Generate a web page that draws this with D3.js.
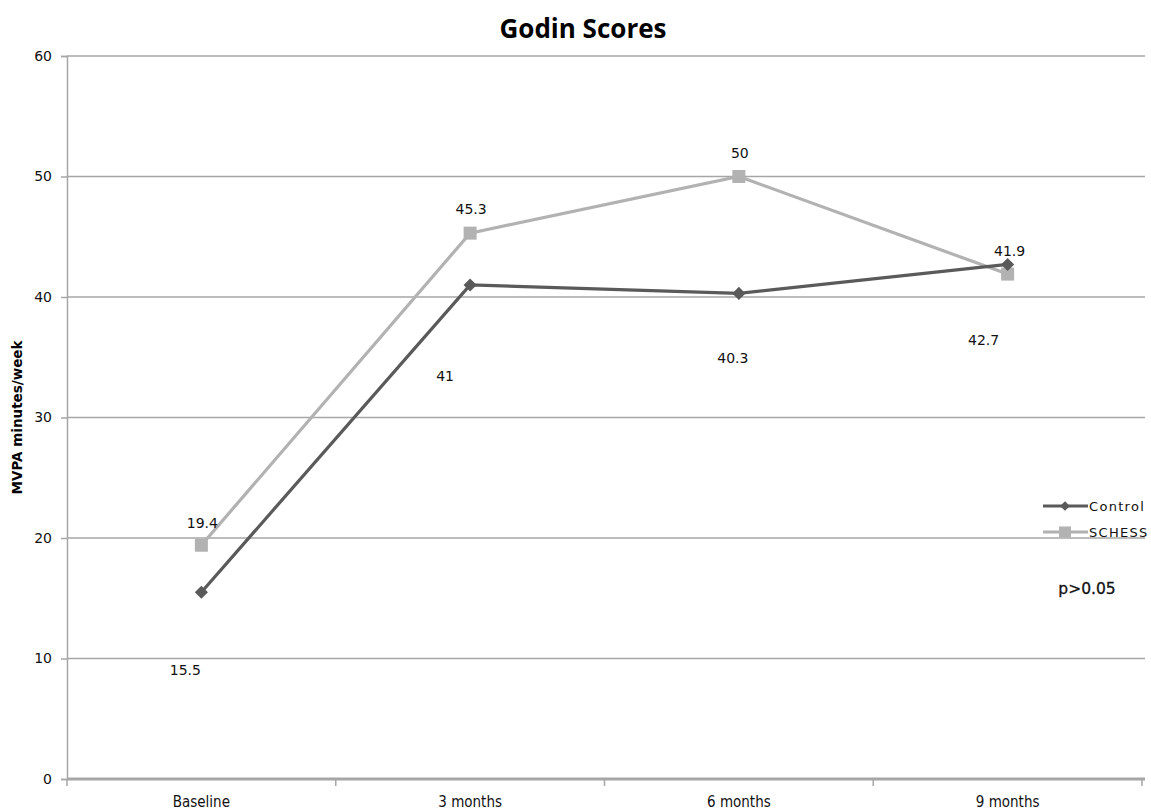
<!DOCTYPE html>
<html>
<head>
<meta charset="utf-8">
<script src="https://cdn.jsdelivr.net/npm/d3@7/dist/d3.min.js"></script>
<style>
  html, body { margin: 0; padding: 0; background: #fff; }
  svg { display: block; }
</style>
</head>
<body>
<svg id="chart" width="1151" height="810"></svg>
<script>
// Godin scores: MVPA minutes/week over time
const timepoints = ["Baseline", "3 months", "6 months", "9 months"];
const controlValues = [15.5, 41, 40.3, 42.7];
const schessValues = [19.4, 45.3, 50, 41.9];
const seriesNames = ["Control", "SCHESS"];
const yTicks = [0, 10, 20, 30, 40, 50, 60];

// hand-placed offsets for the value labels (px, relative to marker)
const controlLabelOffsets = [[-16, 78], [-25, 91], [-6, 65], [-24, 76]];
const schessLabelOffsets = [[1, -22], [1, -24], [1, -23], [2, -23]];

const svg = d3.select("#chart");
const margin = { left: 67, right: 1145, top: 56, bottom: 779 };

const x = d3.scaleBand().domain(timepoints).range([margin.left, 1142]).paddingInner(0).paddingOuter(0);
const y = d3.scaleLinear().domain([0, 60]).range([margin.bottom, margin.top]);
const cx = d => x(d) + x.bandwidth() / 2;

const gridColor = "#a6a6a6";
const controlColor = "#5a5a5a";
const schessColor = "#b2b2b2";
const labelFont = "DejaVu Sans, Verdana, sans-serif";

// horizontal gridlines
svg.append("g").selectAll("line").data(yTicks.filter(t => t > 0)).join("line")
  .attr("x1", margin.left).attr("x2", margin.right)
  .attr("y1", d => y(d)).attr("y2", d => y(d))
  .attr("stroke", gridColor).attr("stroke-width", 1.5);

// y axis
const yAxis = d3.axisLeft(y).tickValues(yTicks).tickSize(6).tickPadding(9);
const gy = svg.append("g").attr("transform", `translate(${margin.left},0)`).call(yAxis);
gy.select(".domain").attr("stroke", gridColor).attr("stroke-width", 1.5);
gy.selectAll(".tick line").attr("stroke", gridColor).attr("stroke-width", 1.5);
gy.selectAll(".tick text").attr("fill", "#111").attr("font-family", labelFont).attr("font-size", 14);

// x axis
const xEdges = timepoints.map(d => x(d)).concat([x(timepoints[timepoints.length - 1]) + x.bandwidth()]);
const gx = svg.append("g");
gx.append("line").attr("x1", margin.left).attr("x2", margin.right)
  .attr("y1", y(0)).attr("y2", y(0)).attr("stroke", gridColor).attr("stroke-width", 3);
gx.selectAll("line.tk").data(xEdges).join("line").attr("class", "tk")
  .attr("x1", d => d).attr("x2", d => d).attr("y1", y(0)).attr("y2", y(0) + 7)
  .attr("stroke", gridColor).attr("stroke-width", 1.5);
gx.selectAll("text").data(timepoints).join("text")
  .attr("x", d => cx(d)).attr("y", 807)
  .attr("text-anchor", "middle")
  .attr("font-family", "DejaVu Sans Condensed, DejaVu Sans, sans-serif")
  .attr("font-stretch", "condensed")
  .attr("font-size", 15).attr("fill", "#111")
  .text(d => d);

// title
svg.append("text").attr("x", 583).attr("y", 38).attr("text-anchor", "middle")
  .attr("font-family", "Open Sans, sans-serif").attr("font-weight", 700)
  .attr("font-size", 26).attr("fill", "#000").text("Godin Scores");

// y axis title
svg.append("text").attr("transform", `translate(22,${(margin.top + margin.bottom) / 2}) rotate(-90)`)
  .attr("text-anchor", "middle")
  .attr("font-family", labelFont).attr("font-weight", 700)
  .attr("font-size", 13.5).attr("fill", "#000").text("MVPA minutes/week");

const line = d3.line().x((d, i) => cx(timepoints[i])).y(d => y(d));

// SCHESS series (squares)
svg.append("path").datum(schessValues).attr("d", line)
  .attr("fill", "none").attr("stroke", schessColor).attr("stroke-width", 3.2);
svg.append("g").selectAll("rect").data(schessValues).join("rect")
  .attr("x", (d, i) => cx(timepoints[i]) - 6.5).attr("y", d => y(d) - 6.5)
  .attr("width", 13).attr("height", 13).attr("fill", schessColor);

// Control series (diamonds)
svg.append("path").datum(controlValues).attr("d", line)
  .attr("fill", "none").attr("stroke", controlColor).attr("stroke-width", 3.2);
const diamond = d3.symbol().type(d3.symbolDiamond2).size(110);
svg.append("g").selectAll("path").data(controlValues).join("path")
  .attr("d", diamond)
  .attr("transform", (d, i) => `translate(${cx(timepoints[i])},${y(d)})`)
  .attr("fill", controlColor);

// value labels
svg.append("g").selectAll("text").data(schessValues).join("text")
  .attr("x", (d, i) => cx(timepoints[i]) + schessLabelOffsets[i][0])
  .attr("y", (d, i) => y(d) + schessLabelOffsets[i][1])
  .attr("dy", "0.35em").attr("text-anchor", "middle")
  .attr("font-family", labelFont).attr("font-size", 14).attr("fill", "#111")
  .text(d => d);
svg.append("g").selectAll("text").data(controlValues).join("text")
  .attr("x", (d, i) => cx(timepoints[i]) + controlLabelOffsets[i][0])
  .attr("y", (d, i) => y(d) + controlLabelOffsets[i][1])
  .attr("dy", "0.35em").attr("text-anchor", "middle")
  .attr("font-family", labelFont).attr("font-size", 14).attr("fill", "#111")
  .text(d => d);

// legend
const legend = svg.append("g");
const legendItems = [
  { name: seriesNames[0], color: controlColor, shape: "diamond", yPos: 506 },
  { name: seriesNames[1], color: schessColor, shape: "square", yPos: 532 }
];
legendItems.forEach(it => {
  legend.append("line").attr("x1", 1043).attr("x2", 1088)
    .attr("y1", it.yPos).attr("y2", it.yPos).attr("stroke", it.color).attr("stroke-width", 3);
  if (it.shape === "diamond") {
    legend.append("path").attr("d", d3.symbol().type(d3.symbolDiamond2).size(60)())
      .attr("transform", `translate(1065,${it.yPos})`).attr("fill", it.color);
  } else {
    legend.append("rect").attr("x", 1059).attr("y", it.yPos - 5.5).attr("width", 12).attr("height", 11).attr("fill", it.color);
  }
  legend.append("text").attr("x", 1089).attr("y", it.yPos).attr("dy", "0.35em")
    .attr("font-family", labelFont).attr("font-size", 13).attr("letter-spacing", 1.3)
    .attr("fill", "#111").text(it.name);
});

// significance note
svg.append("text").attr("x", 1087).attr("y", 589).attr("dy", "0.35em").attr("text-anchor", "middle")
  .attr("font-family", labelFont).attr("font-size", 15.5).attr("font-weight", 500)
  .attr("stroke", "#111").attr("stroke-width", 0.3)
  .attr("fill", "#111").text("p>0.05");
</script>
</body>
</html>
